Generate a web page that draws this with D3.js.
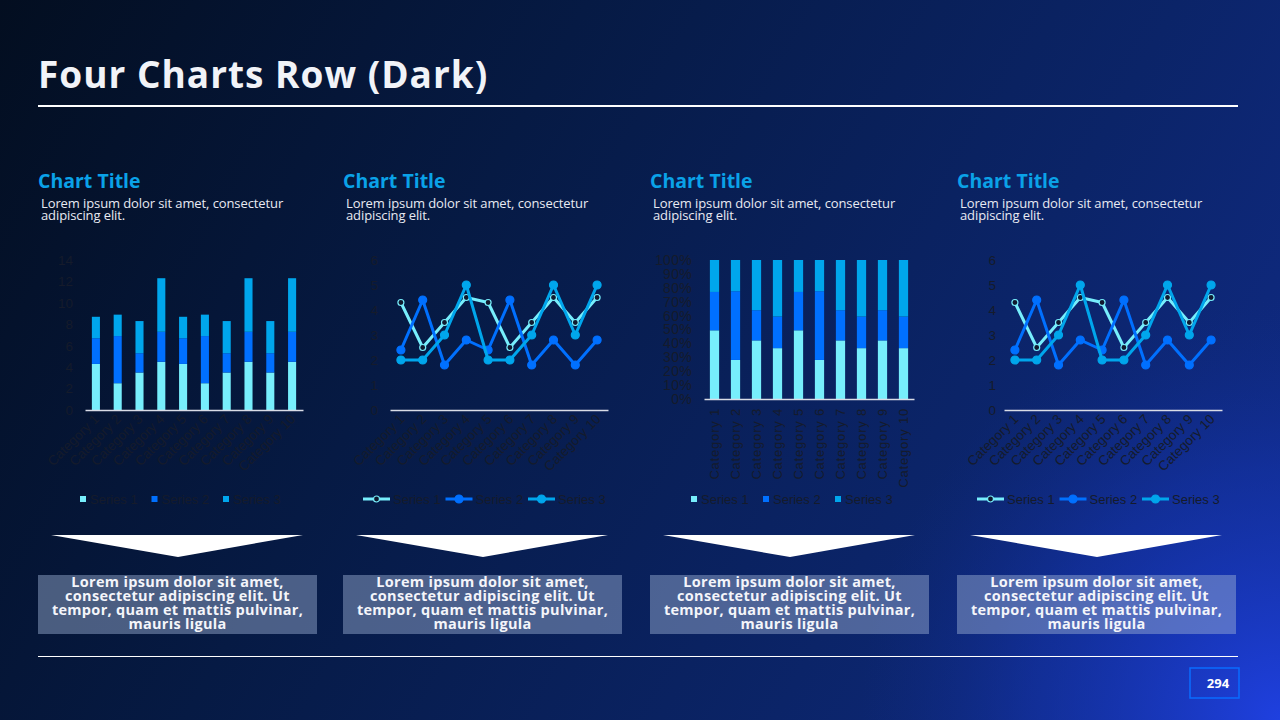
<!DOCTYPE html>
<html>
<head>
<meta charset="utf-8">
<script src="https://cdn.jsdelivr.net/npm/d3@7"></script>
<style>
  html, body { margin: 0; padding: 0; background: #041028; }
  svg { display: block; }
</style>
</head>
<body>
<div id="slide"></div>
<script>
// data
const categories = ["Category 1", "Category 2", "Category 3", "Category 4", "Category 5",
                    "Category 6", "Category 7", "Category 8", "Category 9", "Category 10"];
const seriesNames = ["Series 1", "Series 2", "Series 3"];
const series1 = [4.3, 2.5, 3.5, 4.5, 4.3, 2.5, 3.5, 4.5, 3.5, 4.5];
const series2 = [2.4, 4.4, 1.8, 2.8, 2.4, 4.4, 1.8, 2.8, 1.8, 2.8];
const series3 = [2, 2, 3, 5, 2, 2, 3, 5, 3, 5];
const stackTicks = [0, 2, 4, 6, 8, 10, 12, 14];
const lineTicks = [0, 1, 2, 3, 4, 5, 6];
const pctTicks = [0, 0.1, 0.2, 0.3, 0.4, 0.5, 0.6, 0.7, 0.8, 0.9, 1];
const panelTitle = "Chart Title";
const panelText = ["Lorem ipsum dolor sit amet, consectetur", "adipiscing elit."];
const boxText = ["Lorem ipsum dolor sit amet,", "consectetur adipiscing elit. Ut",
                 "tempor, quam et mattis pulvinar,", "mauris ligula"];
const pageNumber = "294";

const colors = ["#77eefc", "#0070ff", "#00a6ec"];
const tickColor = "#151b2b";
const W = 1280, H = 720;

const svg = d3.select("#slide").append("svg").attr("width", W).attr("height", H);

// background
const defs = svg.append("defs");
const lg = defs.append("linearGradient").attr("id", "bg")
  .attr("gradientUnits", "userSpaceOnUse")
  .attr("x1", 0).attr("y1", 0).attr("x2", W).attr("y2", H);
lg.append("stop").attr("offset", 0).attr("stop-color", "#030e20");
lg.append("stop").attr("offset", 0.35).attr("stop-color", "#061a44");
lg.append("stop").attr("offset", 0.7).attr("stop-color", "#0b2468");
lg.append("stop").attr("offset", 1).attr("stop-color", "#112c8c");
const rg = defs.append("radialGradient").attr("id", "glow")
  .attr("gradientUnits", "userSpaceOnUse")
  .attr("cx", W).attr("cy", H).attr("r", 420);
rg.append("stop").attr("offset", 0).attr("stop-color", "#1f40e0").attr("stop-opacity", 1);
rg.append("stop").attr("offset", 0.6).attr("stop-color", "#1636b8").attr("stop-opacity", 0.45);
rg.append("stop").attr("offset", 1).attr("stop-color", "#112c8c").attr("stop-opacity", 0);
svg.append("rect").attr("width", W).attr("height", H).attr("fill", "url(#bg)");
svg.append("rect").attr("width", W).attr("height", H).attr("fill", "url(#glow)");

// header
svg.append("text").attr("x", 38).attr("y", 88)
  .attr("font-family", "Open Sans").attr("font-weight", "bold").attr("font-size", 37)
  .attr("letter-spacing", 1).attr("fill", "#f1f3f8").text("Four Charts Row (Dark)");
svg.append("rect").attr("x", 38).attr("y", 105).attr("width", 1200).attr("height", 2).attr("fill", "#ffffff");
svg.append("rect").attr("x", 38).attr("y", 656).attr("width", 1200).attr("height", 1).attr("fill", "#ffffff");
svg.append("rect").attr("x", 1190).attr("y", 668).attr("width", 49).attr("height", 30)
  .attr("fill", "none").attr("stroke", "#0a6cff").attr("stroke-width", 1.5);
svg.append("text").attr("x", 1218).attr("y", 687.5).attr("text-anchor", "middle")
  .attr("font-family", "Open Sans").attr("font-weight", "bold").attr("font-size", 13)
  .attr("fill", "#ffffff").text(pageNumber);

const allSeries = [series1, series2, series3];
const rows = categories.map((c, i) => ({ cat: c, s1: series1[i], s2: series2[i], s3: series3[i] }));
const keys = ["s1", "s2", "s3"];

// panel frame: title, text, arrow, box
const drawPanel = (px) => {
  const g = svg.append("g");
  g.append("text").attr("x", px).attr("y", 188)
    .attr("font-family", "Open Sans").attr("font-weight", "bold").attr("font-size", 19.5)
    .attr("fill", "#0aa2e8").text(panelTitle);
  g.append("text").attr("x", px + 3).attr("y", 208)
    .attr("font-family", "Open Sans").attr("font-size", 13).attr("letter-spacing", -0.1)
    .attr("fill", "#e8eaf2")
    .selectAll("tspan").data(panelText).enter().append("tspan")
    .attr("x", px + 3).attr("dy", (d, i) => i ? 11.5 : 0).text(d => d);
  g.append("path")
    .attr("d", "M" + (px + 13) + ",535L" + (px + 265) + ",535L" + (px + 140) + ",557Z")
    .attr("fill", "#ffffff");
  g.append("rect").attr("x", px).attr("y", 575).attr("width", 279).attr("height", 59)
    .attr("fill", "rgba(160,179,214,0.45)");
  g.append("text").attr("text-anchor", "middle")
    .attr("font-family", "Open Sans").attr("font-weight", "bold").attr("font-size", 14.5)
    .attr("letter-spacing", 0.3).attr("fill", "#f4f5fa")
    .selectAll("tspan").data(boxText).enter().append("tspan")
    .attr("x", px + 139.5).attr("y", (d, i) => 587 + i * 14).text(d => d);
};

const styleAxisText = (sel, size) => {
  sel.selectAll("text").attr("fill", tickColor).attr("font-family", "Liberation Sans, Arial")
    .attr("font-size", size);
};

const yAxis = (g, y, x0, ticks, fmt, pad, size) => {
  const ax = g.append("g").attr("transform", "translate(" + x0 + ",0)")
    .call(d3.axisLeft(y).tickValues(ticks).tickSize(0).tickPadding(pad).tickFormat(fmt));
  ax.select(".domain").remove();
  styleAxisText(ax, size);
  return ax;
};

const xAxisDiag = (g, x, y0) => {
  const ax = g.append("g").attr("transform", "translate(0," + y0 + ")")
    .call(d3.axisBottom(x).tickSize(0).tickPadding(0));
  ax.select(".domain").attr("stroke", "#d9dce6").attr("stroke-width", 1.5);
  styleAxisText(ax, 13.5);
  ax.selectAll("text").attr("text-anchor", "end").attr("dy", null)
    .attr("transform", "translate(4,10) rotate(-45)");
};

const squareLegend = (g, x0, step) => {
  const it = g.selectAll(".lg").data(seriesNames).enter().append("g")
    .attr("transform", (d, i) => "translate(" + (x0 + i * step) + ",499)");
  it.append("rect").attr("x", 0).attr("y", -3).attr("width", 6).attr("height", 6)
    .attr("fill", (d, i) => colors[i]);
  it.append("text").attr("x", 10).attr("y", 4.5).attr("font-family", "Liberation Sans, Arial")
    .attr("font-size", 13).attr("fill", tickColor).text(d => d);
};

const lineLegend = (g, x0, step) => {
  const it = g.selectAll(".lg").data(seriesNames).enter().append("g")
    .attr("transform", (d, i) => "translate(" + (x0 + i * step) + ",499)");
  it.append("line").attr("x1", 0).attr("x2", 27).attr("stroke-width", 3)
    .attr("stroke", (d, i) => colors[i]);
  it.append("circle").attr("cx", 13.5).attr("r", (d, i) => i ? 4 : 3)
    .attr("fill", (d, i) => i ? colors[i] : "#10182e")
    .attr("stroke", (d, i) => colors[i]).attr("stroke-width", 1.2);
  it.append("text").attr("x", 30).attr("y", 4.5).attr("font-family", "Liberation Sans, Arial")
    .attr("font-size", 13).attr("fill", tickColor).text(d => d);
};

// 1. stacked columns
const DrawStackChart = (px) => {
  const g = svg.append("g");
  const x = d3.scaleBand().domain(categories).range([85, 303]).paddingInner(0.63).paddingOuter(0.315);
  const y = d3.scaleLinear().domain([0, 14]).range([410, 260]);
  const stack = d3.stack().keys(keys)(rows);
  g.selectAll(".layer").data(stack).enter().append("g")
    .attr("fill", (d, i) => colors[i])
    .selectAll("rect").data(d => d).enter().append("rect")
    .attr("x", d => x(d.data.cat)).attr("width", x.bandwidth())
    .attr("y", d => y(d[1])).attr("height", d => y(d[0]) - y(d[1]));
  yAxis(g, y, 85, stackTicks, d3.format("d"), 12, 13.5);
  xAxisDiag(g, x, 410);
  squareLegend(g, 80, 71.5);
};

// 2 & 4. line charts
const DrawLineChart = (x0, x1, ypad) => {
  const g = svg.append("g");
  const x = d3.scalePoint().domain(categories).range([x0, x1]).padding(0.5);
  const y = d3.scaleLinear().domain([0, 6]).range([410, 260]);
  yAxis(g, y, x0, lineTicks, d3.format("d"), ypad, 13.5);
  xAxisDiag(g, x, 410);
  allSeries.forEach((vals, si) => {
    g.append("path").datum(vals)
      .attr("fill", "none").attr("stroke", colors[si]).attr("stroke-width", 3)
      .attr("stroke-linejoin", "round")
      .attr("d", d3.line().x((d, i) => x(categories[i])).y(d => y(d)));
    g.append("g").selectAll("circle").data(vals).enter().append("circle")
      .attr("cx", (d, i) => x(categories[i])).attr("cy", d => y(d))
      .attr("r", si ? 4 : 3)
      .attr("fill", si ? colors[si] : "#10182e")
      .attr("stroke", colors[si]).attr("stroke-width", 1.2);
  });
  lineLegend(g, x0 - 27, 82.5);
};

// 3. 100% stacked columns
const DrawPercentChart = (px) => {
  const g = svg.append("g");
  const x = d3.scaleBand().domain(categories).range([704, 914]).paddingInner(0.56).paddingOuter(0.28);
  const y = d3.scaleLinear().domain([0, 1]).range([399, 260]);
  const stack = d3.stack().keys(keys).offset(d3.stackOffsetExpand)(rows);
  g.selectAll(".layer").data(stack).enter().append("g")
    .attr("fill", (d, i) => colors[i])
    .selectAll("rect").data(d => d).enter().append("rect")
    .attr("x", d => x(d.data.cat)).attr("width", x.bandwidth())
    .attr("y", d => y(d[1])).attr("height", d => y(d[0]) - y(d[1]));
  const ya = yAxis(g, y, 704, pctTicks, d3.format(".0%"), 12, 14);
  ya.selectAll("text").attr("letter-spacing", 0.3);
  const ax = g.append("g").attr("transform", "translate(0,399)")
    .call(d3.axisBottom(x).tickSize(0).tickPadding(0));
  ax.select(".domain").attr("stroke", "#d9dce6").attr("stroke-width", 1.5);
  styleAxisText(ax, 13);
  ax.selectAll("text").attr("text-anchor", "end").attr("dy", "0.35em")
    .attr("letter-spacing", 0.8)
    .attr("transform", "translate(0,9) rotate(-90)");
  squareLegend(g, 691, 72);
};

[38, 343, 650, 957].forEach(drawPanel);
DrawStackChart(38);
DrawLineChart(390, 608, 12);
DrawPercentChart(650);
DrawLineChart(1004, 1222, 8);
</script>
</body>
</html>
